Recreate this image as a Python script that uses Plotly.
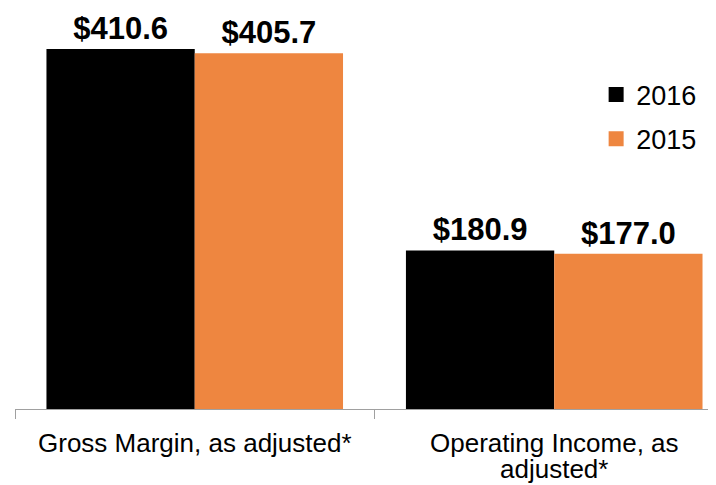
import plotly.graph_objects as go

categories = ["Gross Margin, as adjusted*", "Operating Income, as adjusted*"]
category_label_lines = [["Gross Margin, as adjusted*"], ["Operating Income, as", "adjusted*"]]
years = ["2016", "2015"]
values_2016 = [410.6, 180.9]
values_2015 = [405.7, 177.0]
colors = ["#000000", "#EE8640"]

FONT = "Liberation Sans, Arial"
# the page body adds an 8px offset; size the figure to fill the visible window
W, H = 708, 477
ML, MB = 7, 76
plot_h = H - MB

fig = go.Figure()
for i, (yr, vals) in enumerate(zip(years, [values_2016, values_2015])):
    fig.add_trace(go.Bar(
        name=yr, x=categories, y=vals,
        marker=dict(color=colors[i], line=dict(width=0)),
        text=[f"${v:.1f}" for v in vals],
        textposition="outside",
        constraintext="none",
        textfont=dict(family=FONT, size=31, color="#000000"),
        texttemplate="<b>%{text}</b>",
        cliponaxis=False,
        showlegend=False,
    ))
# legend entries (square swatches)
for i, yr in enumerate(years):
    fig.add_trace(go.Scatter(
        name=yr, x=[None], y=[None], mode="markers",
        marker=dict(symbol="square", size=15, color=colors[i]),
        legendgroup=yr, showlegend=True,
    ))

# category labels below the axis
for cat, lines in zip(categories, category_label_lines):
    for j, line in enumerate(lines):
        center_px = 435 + 26 * j
        fig.add_annotation(
            x=cat, xref="x", y=-(center_px - plot_h) / plot_h, yref="paper",
            text=line, showarrow=False, xanchor="center", yanchor="middle",
            font=dict(family=FONT, size=26, color="#000000"),
        )

fig.update_layout(
    width=W, height=H,
    margin=dict(l=ML, r=0, t=0, b=MB),
    paper_bgcolor="white", plot_bgcolor="white",
    barmode="group", bargap=0.175, bargroupgap=0,
    font=dict(family=FONT, color="#000000"),
    showlegend=True,
    legend=dict(x=0.829, y=0.844, xanchor="left", yanchor="top",
                font=dict(size=27), tracegroupgap=6, traceorder="grouped",
                bgcolor="rgba(0,0,0,0)", itemwidth=30),
)
fig.update_xaxes(
    type="category", range=[-0.5, 1.45], automargin=False,
    showline=True, linecolor="#A0A0A0", linewidth=1.3,
    ticks="outside", tickson="boundaries", ticklen=9, tickcolor="#A0A0A0", tickwidth=1.3,
    showticklabels=False, showgrid=False,
)
fig.update_yaxes(range=[0, 457.4], visible=False, showgrid=False, zeroline=False, automargin=False)

fig.write_html("out.html")
